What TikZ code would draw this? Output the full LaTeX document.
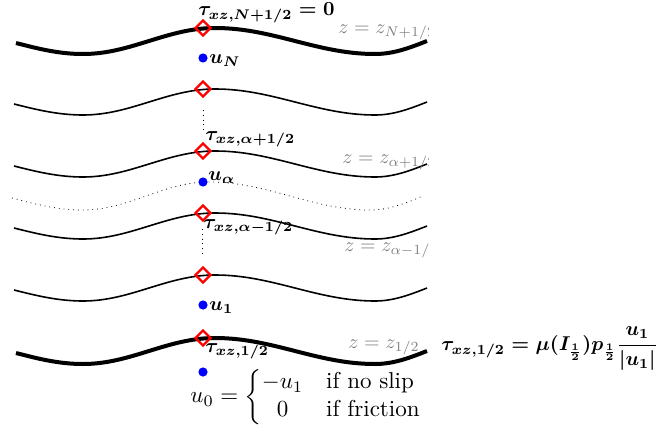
\documentclass[tikz,border=0pt]{standalone}
\usepackage{amsmath,amssymb}
\usepackage{tikz}
\usepackage{xcolor}
\usetikzlibrary{shapes.geometric}

\begin{document}
\begin{tikzpicture}[x=0.5pt,y=-0.5pt,
  face/.style={diamond,draw=red,line width=1.2pt,minimum size=8pt,inner sep=0pt},
  cell/.style={circle,fill=blue,inner sep=0pt,minimum size=4.6pt},
  surf/.style={line width=0.8pt},
  bed/.style={line width=2pt},
  zlab/.style={text=gray,anchor=base west,inner sep=0pt},
  lab/.style={anchor=base west,font=\boldmath,inner sep=0pt}]
\useasboundingbox (0,0) rectangle (658,428);

\begin{scope}
\clip (0,0) rectangle (428,428);
% bottom and free surface
\draw[bed] (16,43) sin (83,54) cos (149,41) sin (215,28) cos (295,41) sin (375,54) cos (427,41);
\draw[bed] (16,353) sin (83,364) cos (149,351) sin (215,338) cos (295,351) sin (375,364) cos (427,351);
% inner interfaces
\foreach \c in {102,164,226,288}
  \draw[surf] (14,\c+2) sin (83,\c+13) cos (149,\c) sin (215,\c-13) cos (295,\c) sin (375,\c+13) cos (427,\c);
\draw[dotted] (12,198) sin (83,210) cos (146,196) sin (209,182) cos (290,196) sin (370,210) cos (423,196);
\node[zlab] (zN) at (338,33) {$z=z_{N+1/2}$};
\node[zlab] (zAp) at (342,163) {$z=z_{\alpha+1/2}$};
\node[zlab] (zAm) at (344,251) {$z=z_{\alpha-1/2}$};
\node[zlab] (zB) at (348,348) {$z=z_{1/2}$};
\end{scope}

\node[face] (d6) at (203,28) {};
\node[face] (d5) at (203,89) {};
\node[face] (d4) at (203,151) {};
\node[face] (d3) at (203,213) {};
\node[face] (d2) at (203,275) {};
\node[face] (d1) at (203,338) {};

\node[cell] (uN) at (203,58) {};
\node[cell] (uA) at (203,182) {};
\node[cell] (u1) at (203,305) {};
\node[cell] (u0) at (203,372) {};

\coordinate (v1) at (203,110);
\coordinate (v2) at (203,132);
\coordinate (v3) at (202,229);
\coordinate (v4) at (202,255);
\draw[dotted] (v1) -- (v2);
\draw[dotted] (v3) -- (v4);

\node[lab] (tN) at (198,16) {$\tau_{xz,N+1/2}=0$};
\node[lab] (lN) at (209,63) {$u_N$};
\node[lab] (tAp) at (205,140) {$\tau_{xz,\alpha+1/2}$};
\node[lab] (lA) at (208,180) {$u_\alpha$};
\node[lab] (tAm) at (203,228) {$\tau_{xz,\alpha-1/2}$};
\node[lab] (l1) at (209,310) {$u_1$};
\node[lab] (tB) at (205,352) {$\tau_{xz,1/2}$};
\node[anchor=west,inner sep=0pt,scale=1.15,transform shape] (bc) at (190,397)
  {$u_0=\left\{\begin{array}{@{}c@{\quad}l@{}} -u_1 & \text{if no slip}\\ 0 & \text{if friction}\end{array}\right.$};
\node[lab,anchor=west] (fric) at (441,349)
  {$\tau_{xz,1/2}=\mu(I_{\frac12})p_{\frac12}\dfrac{u_1}{|u_1|}$};
\end{tikzpicture}
\end{document}
